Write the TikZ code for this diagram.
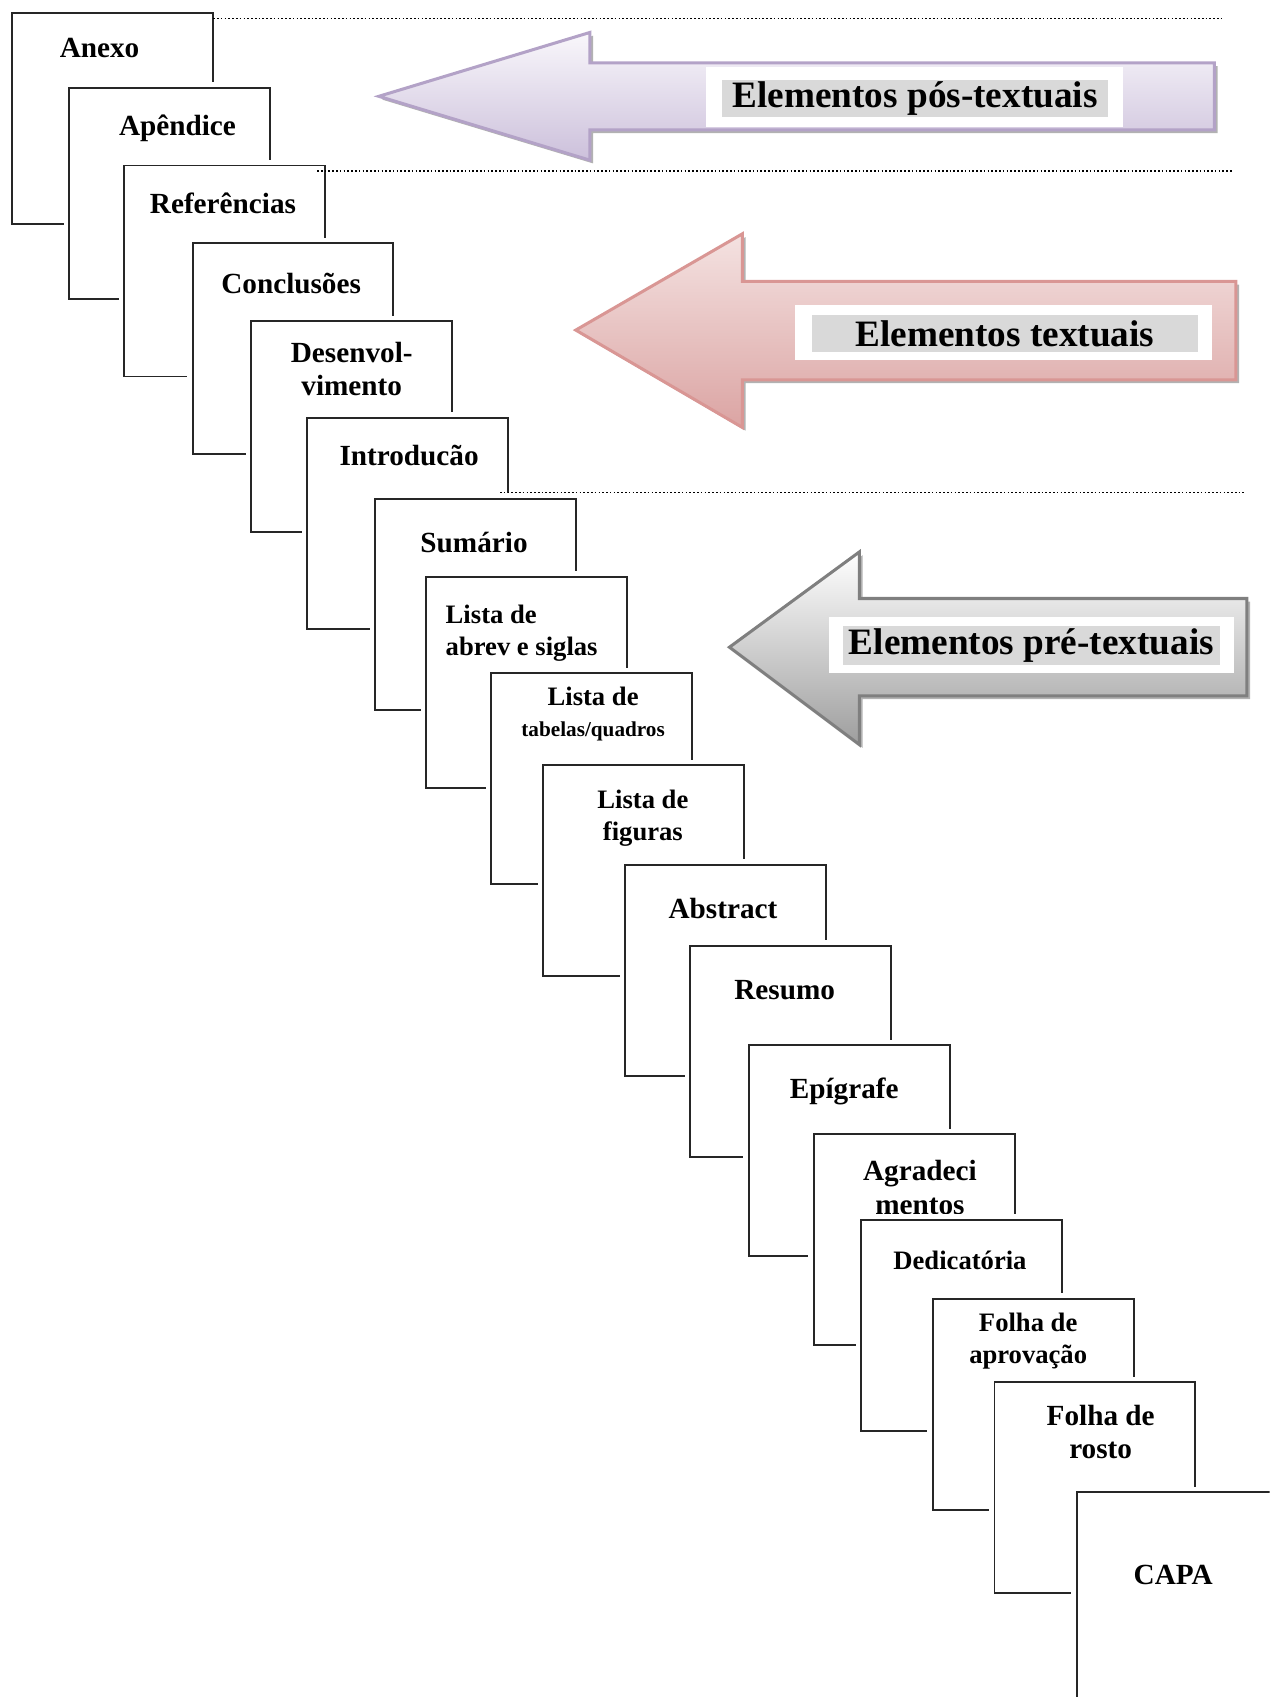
\documentclass[tikz,border=0pt]{standalone}
\usepackage{fontspec}
\setmainfont{Liberation Serif}
\usetikzlibrary{shadows}

\definecolor{lilas}{HTML}{B3A2C7}
\definecolor{lilasA}{HTML}{F9F7FB}
\definecolor{lilasB}{HTML}{CCC0DB}
\definecolor{rosa}{HTML}{D99694}
\definecolor{rosaA}{HTML}{F4E2E1}
\definecolor{rosaB}{HTML}{DBA4A3}
\definecolor{cinza}{HTML}{7F7F7F}
\definecolor{cinzaA}{HTML}{FFFFFF}
\definecolor{cinzaB}{HTML}{9E9E9E}

\newcommand\pfont{\fontsize{13.5}{15.5}\selectfont\bfseries}
\newcommand\pfontsm{\fontsize{12.3}{14.5}\selectfont\bfseries}
\newcommand\pfontxs{\fontsize{9.8}{13}\selectfont\bfseries}
\newcommand\afont{\fontsize{17.2}{20}\selectfont\bfseries}

\tikzset{
  folha/.style={draw=black!85,line width=.9pt,fill=white,anchor=north west,
    minimum width=92.75pt,minimum height=97.5pt,inner sep=0pt,
    preaction={draw=white,line width=5pt}},
  pontilhado/.style={line width=.75pt,dash pattern=on .75pt off 1pt},
  seta/.style={line width=1.4pt,
    drop shadow={shadow xshift=1.5pt,shadow yshift=-1.5pt,fill=black!55,opacity=.55}},
  caixa/.style={fill=white,inner sep=0pt},
  rotulo/.style={fill=black!15,font=\afont,inner sep=0pt,minimum height=17.5pt}
}

\begin{document}
\begin{tikzpicture}[x=.5pt,y=-.5pt]
\useasboundingbox (0,0) rectangle (1173,1568);
\clip (0,0) rectangle (1173,1568);
% folhas, de tras para a frente
\foreach \bx/\by/\lx/\ly/\fnt/\al/\txt [count=\i] in {
  10/11/92/44/\pfont/center/Anexo,
  63/80/164/119/\pfont/center/Apêndice,
  114/152/206/188/\pfont/center/Referências,
  177/224/269/262/\pfont/center/Conclusões,
  231/296/325/341/\pfont/center/{Desenvol-\\vimento},
  283/385/378/421/\pfont/center/Introducão,
  346/460/438/501/\pfont/center/Sumário,
  393/532/482/585/\pfontsm/left/{Lista de\\abrev e siglas},
  453/621/548/660/\pfontsm/center/{Lista de\\{\pfontxs tabelas/quadros}},
  501/706/594/756/\pfontsm/center/{Lista de\\figuras},
  577/798/668/839/\pfont/center/Abstract,
  637/873/725/915/\pfont/center/Resumo,
  691/965/780/1008/\pfont/center/Epígrafe,
  751/1047/850/1097/\pfont/center/{Agradeci\\mentos},
  795/1126/887/1165/\pfontsm/center/Dedicatória,
  861/1199/950/1239/\pfontsm/center/{Folha de\\aprovação},
  918/1276/1017/1323/\pfont/center/{Folha de\\rosto},
  994/1378/1084/1455/\pfont/center/CAPA}
{
  \node[folha] (p\i) at (\bx,\by) {};
  \node[font=\fnt,align=\al] (t\i) at (\lx,\ly) {\txt};
}
% linhas pontilhadas
\draw[pontilhado] (197,17)--(1130,17);
\draw[pontilhado] (293,158)--(1138,158);
\draw[pontilhado] (462,455)--(1150,455);
% setas
\draw[seta,draw=lilas,top color=lilasA,bottom color=lilasB]
(350,89)--(545,30)--(545,58)--(1122,58)--(1122,120)--(545,120)--(545,148)--cycle;
\draw[seta,draw=rosa,top color=rosaA,bottom color=rosaB]
(532,305)--(686,216)--(686,260)--(1142,260)--(1142,351)--(686,351)--(686,395)--cycle;
\draw[seta,draw=cinza,top color=cinzaA,bottom color=cinzaB]
(674,598)--(794,510)--(794,553)--(1152,553)--(1152,643)--(794,643)--(794,688)--cycle;
\node[caixa,minimum width=193pt,minimum height=27.5pt] (cpos) at (845,89.5) {};
\node[rotulo,minimum width=178.5pt] (pos) at (845.5,91) {Elementos pós-textuais};
\node[caixa,minimum width=192.5pt,minimum height=25.5pt] (ctxt) at (927.5,307.5) {};
\node[rotulo,minimum width=178.5pt,minimum height=17pt] (txt) at (928.5,308) {Elementos textuais};
\node[caixa,minimum width=187pt,minimum height=26pt] (cpre) at (953,596) {};
\node[rotulo,minimum width=174pt,minimum height=18pt] (pre) at (953,596) {Elementos pré-textuais};
\end{tikzpicture}
\end{document}
